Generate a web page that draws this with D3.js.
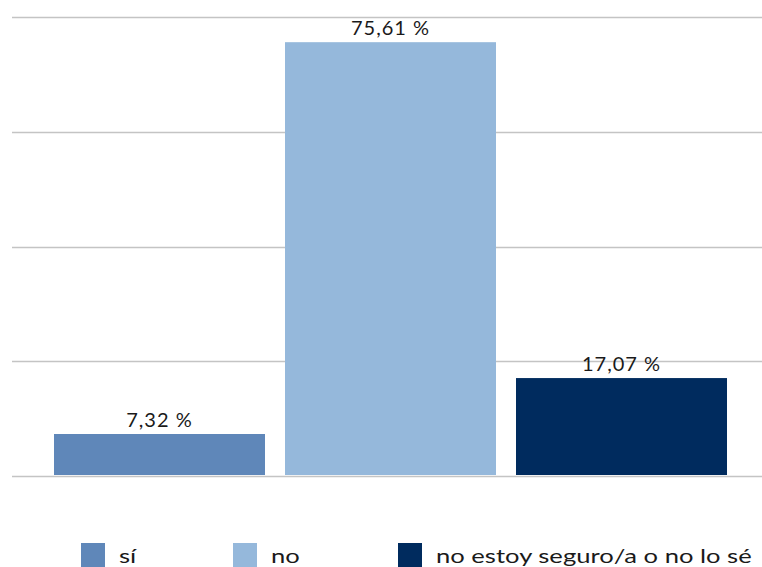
<!DOCTYPE html>
<html><head><meta charset="utf-8">
<script src="https://cdn.jsdelivr.net/npm/d3@7"></script>
<style>body{margin:0;background:#fff}svg{display:block;font-family:Lato,"Open Sans",sans-serif}</style>
</head><body><svg id="c" width="762" height="567"></svg>
<script>
const categories = ["sí", "no", "no estoy seguro/a o no lo sé"];
const values = [7.32, 75.61, 17.07];
const labels = ["7,32 %", "75,61 %", "17,07 %"];
const colors = ["#5F87B9", "#95B8DB", "#002B5E"];
const yTicks = [0, 20, 40, 60, 80];

const svg = d3.select("#c");
const x = d3.scaleBand().domain(categories).range([19, 762]).paddingInner(0.0866).paddingOuter(0.1515);
const y = d3.scaleLinear().domain([0, 80]).range([476, 17]);

svg.append("g").selectAll("line").data(yTicks).join("line")
  .attr("x1", 12).attr("x2", 762)
  .attr("y1", d => Math.round(y(d)) + 0.5).attr("y2", d => Math.round(y(d)) + 0.5)
  .attr("stroke", "#c4c4c4").attr("stroke-width", 1.3);

svg.append("g").selectAll("rect").data(values).join("rect")
  .attr("x", (d, i) => x(categories[i])).attr("width", x.bandwidth())
  .attr("y", d => y(d)).attr("height", d => y(0) - y(d) - 1)
  .attr("fill", (d, i) => colors[i]);

svg.append("g").selectAll("text").data(values).join("text")
  .attr("x", (d, i) => x(categories[i]) + x.bandwidth() / 2)
  .attr("y", d => y(d) - 7)
  .attr("text-anchor", "middle").attr("font-size", 20).attr("letter-spacing", 1).attr("fill", "#1a1a1a")
  .text((d, i) => labels[i]);

const legX = [81, 233, 398];
const lg = svg.append("g").selectAll("g").data(categories).join("g")
  .attr("transform", (d, i) => `translate(${legX[i]},543)`);
lg.append("rect").attr("width", 24).attr("height", 24).attr("fill", (d, i) => colors[i]);
lg.append("text").attr("transform", "translate(38,20) scale(1.28,1)")
  .attr("font-size", 20).attr("fill", "#1a1a1a").text(d => d);
</script></body></html>
